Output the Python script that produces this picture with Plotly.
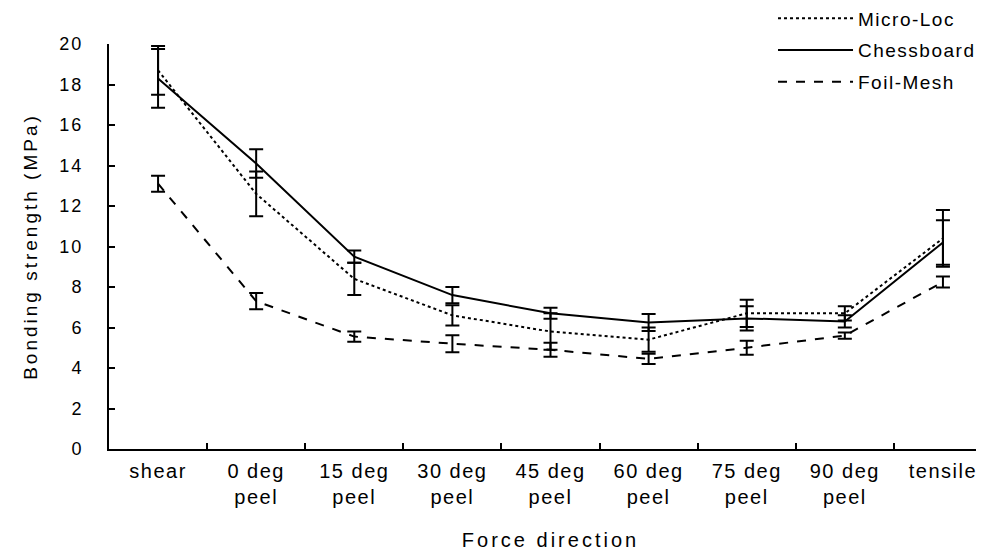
import plotly.graph_objects as go

categories = ["shear", "0 deg peel", "15 deg peel", "30 deg peel", "45 deg peel",
              "60 deg peel", "75 deg peel", "90 deg peel", "tensile"]
tick_labels = ["shear", "0 deg<br>peel", "15 deg<br>peel", "30 deg<br>peel", "45 deg<br>peel",
               "60 deg<br>peel", "75 deg<br>peel", "90 deg<br>peel", "tensile"]
y_ticks = [0, 2, 4, 6, 8, 10, 12, 14, 16, 18, 20]

micro_loc = [18.7, 12.6, 8.4, 6.6, 5.8, 5.4, 6.7, 6.7, 10.4]
micro_loc_err = [1.2, 1.1, 0.8, 0.5, 0.9, 0.6, 0.67, 0.35, 1.4]
chessboard = [18.3, 14.1, 9.5, 7.6, 6.7, 6.25, 6.45, 6.3, 10.2]
chessboard_err = [1.45, 0.7, 0.3, 0.4, 0.27, 0.42, 0.6, 0.3, 1.1]
foil_mesh = [13.1, 7.3, 5.55, 5.2, 4.9, 4.45, 5.0, 5.6, 8.25]
foil_mesh_err = [0.4, 0.4, 0.25, 0.42, 0.35, 0.25, 0.35, 0.15, 0.27]

FONT = "Liberation Sans, Arial, sans-serif"


def sp(text, px):
    return f'<span style="letter-spacing:{px}px">{text}</span>'


series = [
    ("Micro-Loc", micro_loc, micro_loc_err, "dot"),
    ("Chessboard", chessboard, chessboard_err, "solid"),
    ("Foil-Mesh", foil_mesh, foil_mesh_err, "dash"),
]

fig = go.Figure()
for name, vals, errs, dash in series:
    fig.add_trace(go.Scatter(
        x=categories, y=vals, name=sp(name, 1.5), mode="lines",
        legendgroup=name,
        line=dict(color="black", width=2, dash=dash),
        error_y=dict(type="data", array=errs, visible=True,
                     color="black", thickness=2, width=7),
    ))

fig.update_layout(
    width=984, height=558,
    margin=dict(l=101, r=0, t=36, b=117, autoexpand=False),
    paper_bgcolor="white", plot_bgcolor="white",
    font=dict(family=FONT, color="black", size=18),
    showlegend=True,
    legend=dict(x=0.752, y=1.11, xanchor="left", yanchor="top",
                bgcolor="rgba(0,0,0,0)", font=dict(size=19, family=FONT),
                itemwidth=75, tracegroupgap=4, traceorder="grouped"),
    xaxis=dict(
        type="category", categoryorder="array", categoryarray=categories,
        tickvals=categories, ticktext=[sp(t, 1.5) for t in tick_labels],
        tickfont=dict(size=20),
        range=[-0.5, 8.5], tickson="boundaries",
        ticks="inside", ticklen=6, tickwidth=1.5, tickcolor="black",
        showline=True, linecolor="black", linewidth=2, showgrid=False,
        zeroline=False, ticklabelstandoff=3,
        title=dict(text=sp("Force direction", 3), font=dict(size=20), standoff=26),
    ),
    yaxis=dict(
        range=[0, 20], tickvals=y_ticks, ticktext=[sp(str(v), 2) for v in y_ticks],
        ticks="inside", ticklen=6, tickwidth=1.5, tickcolor="black",
        showline=True, linecolor="black", linewidth=2, showgrid=False,
        zeroline=False, ticklabelstandoff=20,
        title=dict(text=sp("Bonding strength (MPa)", 3), font=dict(size=19), standoff=17),
    ),
)

fig.write_html("out.html")
